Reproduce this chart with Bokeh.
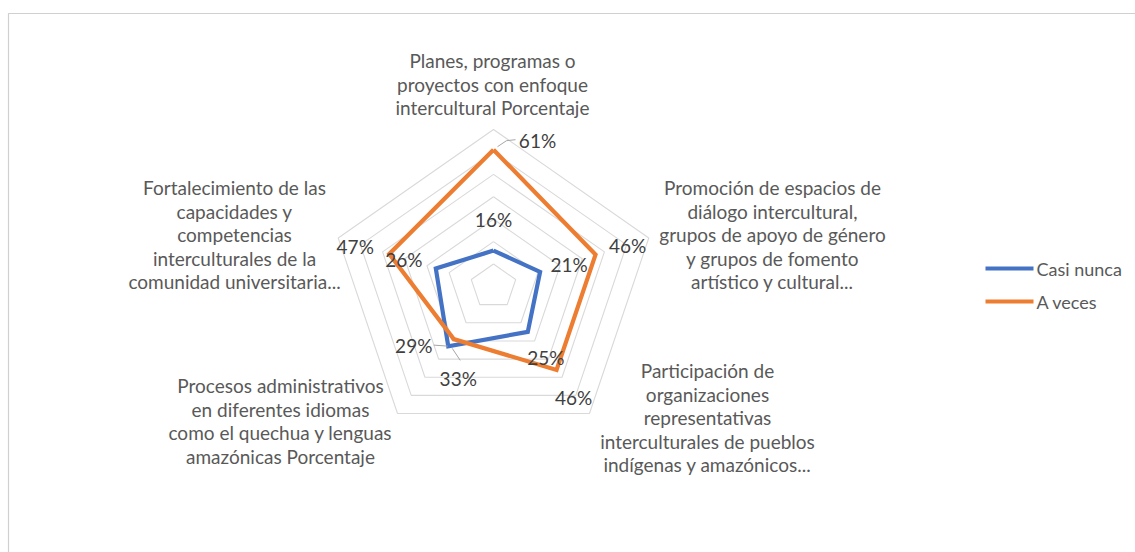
import math
from bokeh.plotting import figure
from bokeh.models import Range1d
from bokeh.core.properties import value
from bokeh.embed import file_html
from bokeh.resources import INLINE

# ---------------- data ----------------
category_lines = [
    ["Planes, programas o", "proyectos con enfoque", "intercultural Porcentaje"],
    ["Promoción de espacios de", "diálogo intercultural,", "grupos de apoyo de género",
     "y grupos de fomento", "artístico y cultural..."],
    ["Participación de", "organizaciones", "representativas",
     "interculturales de pueblos", "indígenas y amazónicos..."],
    ["Procesos administrativos", "en diferentes idiomas",
     "como el quechua y lenguas", "amazónicas Porcentaje"],
    ["Fortalecimiento de las", "capacidades y", "competencias",
     "interculturales de la", "comunidad universitaria..."],
]
series_names = ["Casi nunca", "A veces"]
casi_nunca = [16, 21, 25, 33, 26]
a_veces = [61, 46, 46, 29, 47]
ring_values = [10, 20, 30, 40, 50, 60, 70]

# ---------------- layout ----------------
W, H = 1135, 552
CX, CY = 493, 286                  # radar centre (figure coords, y down)
R = 157.0                          # radius of max ring
SX = 1.04                          # slight horizontal stretch
VMAX = ring_values[-1]
FONT = value("Lato")
FS = "19px"
TXT = "#595959"

BLUE = "#4472C4"
ORANGE = "#ED7D31"
GRID = "#D9D9D9"

n = len(category_lines)
angles = [2 * math.pi * i / n for i in range(n)]


def pt(v, i):
    r = R * v / VMAX
    return CX + SX * r * math.sin(angles[i]), CY - r * math.cos(angles[i])


p = figure(width=W, height=H, x_range=Range1d(0, W), y_range=Range1d(H, 0),
           output_backend="svg", toolbar_location=None, min_border=0,
           x_axis_location=None, y_axis_location=None)
p.grid.visible = False
p.outline_line_color = None
p.background_fill_color = "white"

# chart frame
p.line([8, 8, W], [H, 13, 13], line_color="#D0D0D0", line_width=1.2)

# grid rings
for rv in ring_values:
    xs = [pt(rv, i)[0] for i in range(n)] + [pt(rv, 0)[0]]
    ys = [pt(rv, i)[1] for i in range(n)] + [pt(rv, 0)[1]]
    p.line(xs, ys, line_color=GRID, line_width=1.1)

# series
for vals, col in [(casi_nunca, BLUE), (a_veces, ORANGE)]:
    xs = [pt(v, i)[0] for i, v in enumerate(vals)] + [pt(vals[0], 0)[0]]
    ys = [pt(v, i)[1] for i, v in enumerate(vals)] + [pt(vals[0], 0)[1]]
    p.line(xs, ys, line_color=col, line_width=4.2, line_join="miter")

# data labels (offsets from vertex)
blue_off = [(0, -31), (29, -7), (18, 26), (10, 32), (-32, -9)]
orange_off = [(44, -9), (32, -9), (17, 28), (-40, 6), (-34, -7)]
lx, ly, lt = [], [], []
for vals, offs in [(casi_nunca, blue_off), (a_veces, orange_off)]:
    for i, v in enumerate(vals):
        x, y = pt(v, i)
        lx.append(x + offs[i][0])
        ly.append(y + offs[i][1])
        lt.append(f"{v}%")
p.text(lx, ly, text=lt, text_font=FONT, text_font_size=FS, text_color="#404040",
       text_align="center", text_baseline="middle")

# leader lines
x0, y0 = pt(a_veces[0], 0)
p.line([x0 + 4, x0 + 13, x0 + 22], [y0 - 3, y0 - 9, y0 - 10], line_color="#A6A6A6", line_width=1)
x3, y3 = pt(a_veces[3], 3)
p.line([x3 - 20, x3 - 6], [y3 + 6, y3 + 7], line_color="#A6A6A6", line_width=1)
xb, yb = pt(casi_nunca[3], 3)
p.line([xb + 4, xb + 12], [yb + 2, yb + 14], line_color="#A6A6A6", line_width=1)

# category labels
cat_pos = [(492, 60), (772, 187), (707, 370), (280, 385), (234, 187)]
LH = 23.6
cx_, cy_, ct_ = [], [], []
for (sx, sy), lines in zip(cat_pos, category_lines):
    for k, line in enumerate(lines):
        cx_.append(sx)
        cy_.append(sy + k * LH)
        ct_.append(line)
p.text(cx_, cy_, text=ct_, text_font=FONT, text_font_size=FS, text_color=TXT,
       text_align="center", text_baseline="middle")

# legend
leg_y = [268, 301]
for name, col, yy in zip(series_names, [BLUE, ORANGE], leg_y):
    p.line([985, 1033], [yy, yy], line_color=col, line_width=4.2)
p.text([1036] * 2, leg_y, text=series_names, text_font=FONT, text_font_size="18px",
       text_color=TXT, text_align="left", text_baseline="middle")

open("out.html", "w").write(file_html(p, INLINE))
